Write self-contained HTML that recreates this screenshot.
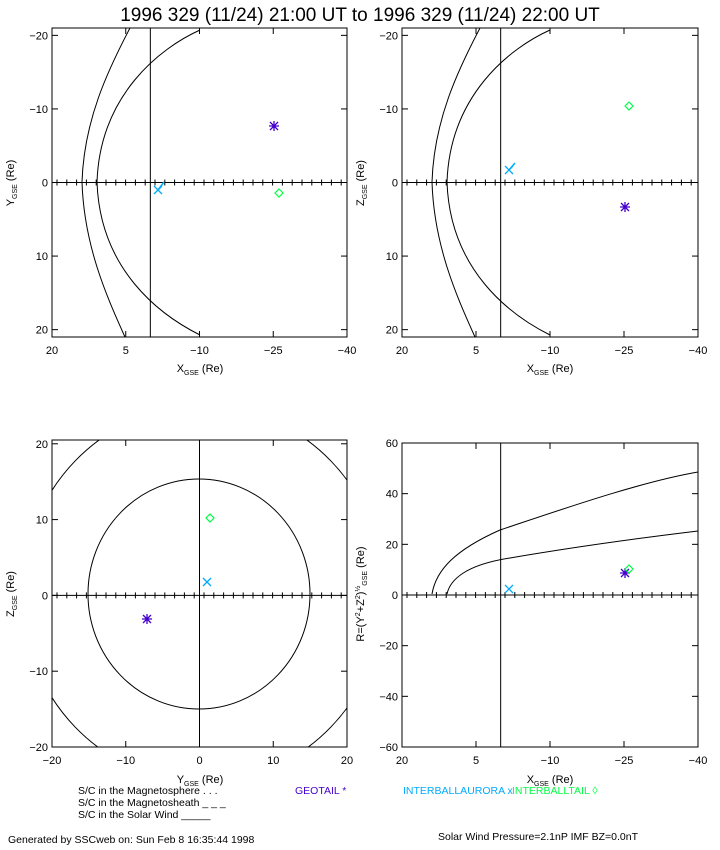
<!DOCTYPE html>
<html><head><meta charset="utf-8"><style>
body{margin:0;background:#fff;width:720px;height:850px;overflow:hidden}
svg{display:block;font-family:"Liberation Sans",sans-serif}
</style></head><body>
<svg id="s" width="720" height="850" xmlns="http://www.w3.org/2000/svg">
<defs><clipPath id="c1"><rect x="52" y="440" width="295" height="307"/></clipPath></defs>
<text x="360" y="21" font-size="19" text-anchor="middle">1996 329 (11/24) 21:00 UT to 1996 329 (11/24) 22:00 UT</text>
<g id="g" stroke="#000" fill="none" stroke-width="1"></g>
<g font-size="10.5" fill="#000">
<text x="8" y="843">Generated by SSCweb on: Sun Feb  8 16:35:44 1998</text>
<text x="438" y="840">Solar Wind Pressure=2.1nP   IMF BZ=0.0nT</text>
<text x="78" y="794">S/C in the Magnetosphere . . .</text>
<text x="78" y="806">S/C in the Magnetosheath _ _ _</text>
<text x="78" y="818">S/C in the Solar Wind _____</text>
<text x="295" y="794" fill="#4400cc">GEOTAIL *</text>
<text x="403" y="794" fill="#00aaff">INTERBALLAURORA x</text>
<text x="512" y="794" fill="#00ff44">INTERBALLTAIL ◊</text>
</g>
</svg>
<script>
const g=document.getElementById('g'),S=document.getElementById('s');
function el(t,a,p){const e=document.createElementNS('http://www.w3.org/2000/svg',t);for(const k in a)e.setAttribute(k,a[k]);(p||g).appendChild(e);return e}
function txt(x,y,s,anch,p){const e=el('text',{x,y,'font-size':11,'text-anchor':anch||'middle',fill:'#000',stroke:'none'},S);e.textContent=s;return e}
function panel(L,T,R,B,xr,yr,xt,yt,x0){
 el('rect',{x:L,y:T,width:R-L,height:B-T});
 const X=v=>L+(v-xr[0])/(xr[1]-xr[0])*(R-L), Y=v=>T+(v-yr[0])/(yr[1]-yr[0])*(B-T);
 xt.forEach(v=>{txt(X(v),B+17,String(v).replace('-','−'));el('line',{x1:X(v),y1:B,x2:X(v),y2:B-6});el('line',{x1:X(v),y1:T,x2:X(v),y2:T+6});});
 yt.forEach(v=>{txt(L-4,Y(v)+4,String(v).replace('-','−'),'end');el('line',{x1:L,y1:Y(v),x2:L+6,y2:Y(v)});el('line',{x1:R,y1:Y(v),x2:R-6,y2:Y(v)});});
 const cx=X(x0),cy=Y(0);
 el('line',{x1:L,y1:cy,x2:R,y2:cy});el('line',{x1:cx,y1:T,x2:cx,y2:B});
 for(let x=L+5;x<R;x+=9.8)el('line',{x1:x,y1:cy-3,x2:x,y2:cy+3});
}
function lbl(x,y,main,sub,rot){const e=el('text',{x,y,'font-size':11,fill:'#000',stroke:'none','text-anchor':'middle'},S);
 e.innerHTML=main+'<tspan font-size="7" dy="3">'+sub+'</tspan><tspan dy="-3"> (Re)</tspan>';if(rot)e.setAttribute('transform',`rotate(-90 ${x} ${y})`);}
function mk(x,y,t){
 if(t==0){el('path',{d:`M${x-5} ${y}h10M${x} ${y-5}v10M${x-4} ${y-4}l8 8M${x-4} ${y+4}l8 -8`,stroke:'#4400cc','stroke-width':1.3});}
 if(t==1){el('path',{d:`M${x-4} ${y-4}l8 8M${x-4} ${y+4}l8 -8`,stroke:'#00aaff','stroke-width':1.3});}
 if(t==2){el('path',{d:`M${x} ${y-4}l4 4l-4 4l-4 -4z`,stroke:'#00ff44','stroke-width':1.2});}
}
panel(52,28,347,337,[20,-40],[-21,21],[20,5,-10,-25,-40],[-20,-10,0,10,20],0);
lbl(200,372,'X','GSE');lbl(14,183,'Y','GSE',1);
el('path',{d:'M130 28 C108 70 84 120 82 182 C84 245 106 295 125 337'});
el('path',{d:'M200 30 C160 48 100 95 97 182 C100 270 160 315 200 335'});
mk(274,126,0);mk(158,190,1);el('path',{d:'M158 190 L164 182',stroke:'#00aaff','stroke-width':1.5});mk(279,193,2);
panel(402,28,698,337,[20,-40],[-21,21],[20,5,-10,-25,-40],[-20,-10,0,10,20],0);
lbl(550,372,'X','GSE');lbl(364,183,'Z','GSE',1);
el('path',{d:'M480 28 C458 70 434 120 432 182 C434 245 456 295 475 337'});
el('path',{d:'M550 30 C510 48 450 95 447 182 C450 270 510 315 550 335'});
mk(625,207,0);mk(509,170,1);el('path',{d:'M509 170 L515 163',stroke:'#00aaff','stroke-width':1.5});mk(629,106,2);
panel(52,440,347,747,[-20,20],[20.5,-20],[-20,-10,0,10,20],[20,10,0,-10,-20],0);
lbl(200,783,'Y','GSE');lbl(14,594,'Z','GSE',1);
el('ellipse',{cx:199,cy:594,rx:111,ry:115});
el('ellipse',{cx:203,cy:594,rx:181,ry:188,'clip-path':'url(#c1)'});
mk(147,619,0);mk(207,582,1);mk(210,518,2);
panel(402,443,698,747,[20,-40],[60,-60],[20,5,-10,-25,-40],[60,40,20,0,-20,-40,-60],0);
lbl(550,783,'X','GSE');
const e=el('text',{x:364,y:594,'font-size':11,fill:'#000',stroke:'none','text-anchor':'middle',transform:'rotate(-90 364 594)'},S);
e.innerHTML='R=(Y<tspan font-size="7" dy="-4">2</tspan><tspan dy="4">+Z</tspan><tspan font-size="7" dy="-4">2</tspan><tspan dy="4">)</tspan><tspan font-size="7" dy="-4">½</tspan><tspan font-size="7" dy="7">GSE</tspan><tspan dy="-3"> (Re)</tspan>';
el('path',{d:'M432 594 C436 570 455 550 500 530 C560 510 640 482 698 472'});
el('path',{d:'M447 594 C450 580 465 565 510 558 C580 546 640 538 698 531'});
mk(625,573,0);mk(509,589,1);mk(629,569,2);
</script>
</body></html>
